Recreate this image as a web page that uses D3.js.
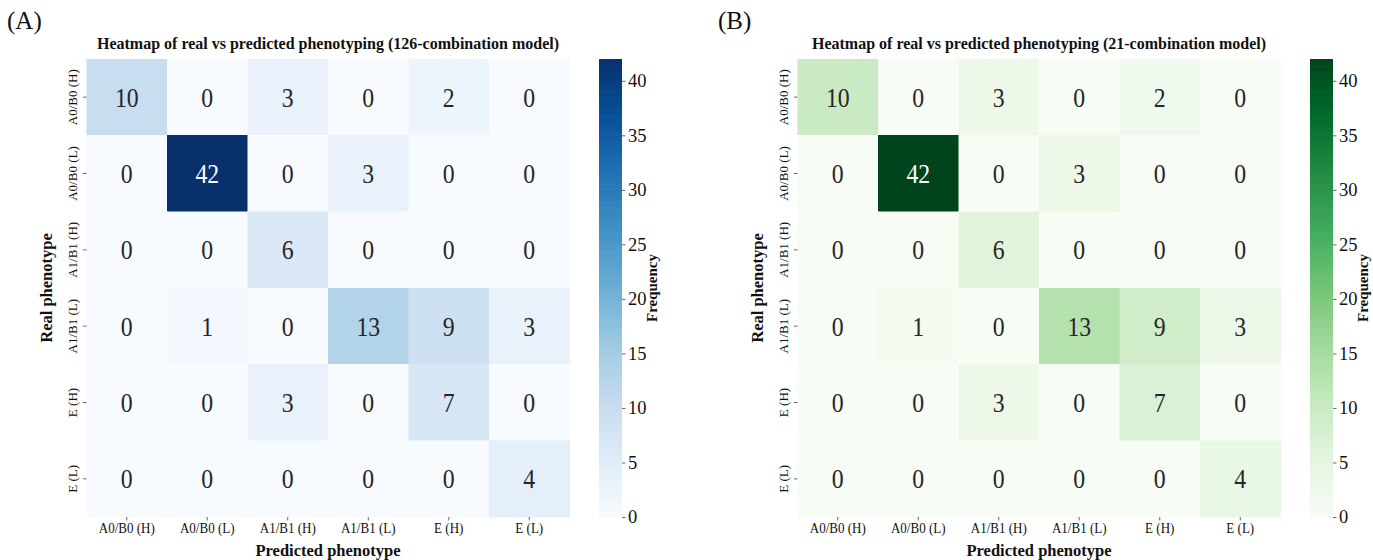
<!DOCTYPE html>
<html>
<head>
<meta charset="utf-8">
<script src="https://cdn.jsdelivr.net/npm/d3@7"></script>
<style>
  html, body { margin: 0; padding: 0; background: #fff; }
  svg { display: block; font-family: "Liberation Serif", "Times New Roman", serif; }
</style>
</head>
<body>
<svg id="chart" width="1373" height="560"></svg>
<script>
// Phenotype classes (rows = real, columns = predicted)
const realPhenotypes = ["A0/B0 (H)", "A0/B0 (L)", "A1/B1 (H)", "A1/B1 (L)", "E (H)", "E (L)"];
const predictedPhenotypes = ["A0/B0 (H)", "A0/B0 (L)", "A1/B1 (H)", "A1/B1 (L)", "E (H)", "E (L)"];

// Confusion counts, 126-combination model
const counts126 = [
  [10, 0, 3, 0, 2, 0],
  [0, 42, 0, 3, 0, 0],
  [0, 0, 6, 0, 0, 0],
  [0, 1, 0, 13, 9, 3],
  [0, 0, 3, 0, 7, 0],
  [0, 0, 0, 0, 0, 4]
];

// Confusion counts, 21-combination model
const counts21 = [
  [10, 0, 3, 0, 2, 0],
  [0, 42, 0, 3, 0, 0],
  [0, 0, 6, 0, 0, 0],
  [0, 1, 0, 13, 9, 3],
  [0, 0, 3, 0, 7, 0],
  [0, 0, 0, 0, 0, 4]
];

const colorbarTicks = [0, 5, 10, 15, 20, 25, 30, 35, 40];

const panelLetters = ["(A)", "(B)"];
const panelTitles = [
  "Heatmap of real vs predicted phenotyping (126-combination model)",
  "Heatmap of real vs predicted phenotyping (21-combination model)"
];

// ColorBrewer sequential ramps
const bluesRamp = ["#f7fbff", "#deebf7", "#c6dbef", "#9ecae1", "#6baed6", "#4292c6", "#2171b5", "#08519c", "#08306b"];
const greensRamp = ["#f7fcf5", "#e5f5e0", "#c7e9c0", "#a1d99b", "#74c476", "#41ab5d", "#238b45", "#006d2c", "#00441b"];

const svg = d3.select("#chart");
svg.append("rect").attr("width", 1373).attr("height", 560).attr("fill", "#fff");

const H = { left: 86.5, right: 569.5, top: 59, bottom: 517 };
const CB = { left: 599, width: 23 };
const TEXT = "#111";
const SERIF = "Liberation Serif, Times New Roman, serif";

function relLum(c) {
  const rgb = d3.rgb(c);
  const f = v => { v /= 255; return v <= 0.03928 ? v / 12.92 : Math.pow((v + 0.055) / 1.055, 2.4); };
  return 0.2126 * f(rgb.r) + 0.7152 * f(rgb.g) + 0.0722 * f(rgb.b);
}

function drawPanel(offsetX, letter, title, counts, ramp) {
  const g = svg.append("g").attr("transform", `translate(${offsetX},0)`);

  const x = d3.scaleBand().domain(predictedPhenotypes).range([H.left, H.right]);
  const y = d3.scaleBand().domain(realPhenotypes).range([H.top, H.bottom]);
  const vmax = d3.max(counts.flat());
  const color = d3.scaleLinear()
    .domain(ramp.map((_, i) => i / (ramp.length - 1) * vmax))
    .range(ramp)
    .interpolate(d3.interpolateRgb)
    .clamp(true);

  const cells = [];
  counts.forEach((row, i) => row.forEach((v, j) => cells.push({ r: realPhenotypes[i], c: predictedPhenotypes[j], v })));

  g.append("g").selectAll("rect").data(cells).join("rect")
    .attr("x", d => x(d.c))
    .attr("y", d => y(d.r))
    .attr("width", x.bandwidth())
    .attr("height", y.bandwidth())
    .attr("fill", d => color(d.v))
    .attr("stroke", d => color(d.v))
    .attr("stroke-width", 0.5)
    .attr("shape-rendering", "crispEdges");

  // Cell annotations (slightly condensed serif digits)
  g.append("g").selectAll("text").data(cells).join("text")
    .attr("transform", d => `translate(${x(d.c) + x.bandwidth() / 2},${y(d.r) + y.bandwidth() / 2}) scale(0.88,1)`)
    .attr("dy", "0.35em")
    .attr("text-anchor", "middle")
    .attr("font-size", 27)
    .attr("fill", d => relLum(color(d.v)) > 0.408 ? "#262626" : "#fff")
    .text(d => d.v);

  // Left axis with rotated labels
  const yAxis = g.append("g")
    .attr("transform", `translate(${H.left},0)`)
    .call(d3.axisLeft(y).tickSize(3.5).tickPadding(0));
  yAxis.select(".domain").remove();
  yAxis.selectAll(".tick line").attr("stroke", "#444").attr("stroke-width", 0.8);
  yAxis.selectAll(".tick text")
    .attr("transform", "rotate(-90)")
    .attr("x", 0)
    .attr("y", -10)
    .attr("dy", 0)
    .attr("text-anchor", "middle")
    .attr("font-size", 13)
    .attr("font-family", SERIF)
    .attr("fill", TEXT);

  // Bottom axis
  const xAxis = g.append("g")
    .attr("transform", `translate(0,${H.bottom})`)
    .call(d3.axisBottom(x).tickSize(3.5).tickPadding(2.5));
  xAxis.select(".domain").remove();
  xAxis.selectAll(".tick line").attr("stroke", "#444").attr("stroke-width", 0.8);
  xAxis.selectAll(".tick text")
    .attr("transform", "scale(0.93,1)")
    .attr("font-size", 14)
    .attr("font-family", SERIF)
    .attr("fill", TEXT);

  // Colorbar
  const cy = d3.scaleLinear().domain([0, vmax]).range([H.bottom, H.top]);
  const steps = d3.range(0, 128).map(k => ({ a: k / 128 * vmax, b: (k + 1) / 128 * vmax }));
  g.append("g").selectAll("rect").data(steps).join("rect")
    .attr("x", CB.left)
    .attr("width", CB.width)
    .attr("y", d => cy(d.b))
    .attr("height", d => cy(d.a) - cy(d.b) + 0.6)
    .attr("fill", d => color((d.a + d.b) / 2));

  const cAxis = g.append("g")
    .attr("transform", `translate(${CB.left + CB.width},0)`)
    .call(d3.axisRight(cy).tickValues(colorbarTicks).tickSize(3.5).tickPadding(2.5));
  cAxis.select(".domain").remove();
  cAxis.selectAll(".tick line").attr("stroke", "#444").attr("stroke-width", 0.8);
  cAxis.selectAll(".tick text")
    .attr("font-size", 18.5)
    .attr("font-family", SERIF)
    .attr("fill", TEXT);

  g.append("text")
    .attr("transform", `translate(657,${(H.top + H.bottom) / 2}) rotate(-90)`)
    .attr("text-anchor", "middle")
    .attr("font-size", 15)
    .attr("font-weight", "bold")
    .attr("fill", TEXT)
    .text("Frequency");

  // Titles and axis names
  g.append("text")
    .attr("x", (H.left + H.right) / 2)
    .attr("y", 49)
    .attr("text-anchor", "middle")
    .attr("font-size", 16)
    .attr("font-weight", "bold")
    .attr("fill", TEXT)
    .text(title);

  g.append("text")
    .attr("x", (H.left + H.right) / 2)
    .attr("y", 556)
    .attr("text-anchor", "middle")
    .attr("font-size", 16.5)
    .attr("font-weight", "bold")
    .attr("fill", TEXT)
    .text("Predicted phenotype");

  g.append("text")
    .attr("transform", `translate(52,${(H.top + H.bottom) / 2}) rotate(-90)`)
    .attr("text-anchor", "middle")
    .attr("font-size", 16.5)
    .attr("font-weight", "bold")
    .attr("fill", TEXT)
    .text("Real phenotype");

  g.append("text")
    .attr("x", 7)
    .attr("y", 29)
    .attr("font-size", 25)
    .attr("fill", TEXT)
    .text(letter);
}

drawPanel(0, panelLetters[0], panelTitles[0], counts126, bluesRamp);
drawPanel(711, panelLetters[1], panelTitles[1], counts21, greensRamp);
</script>
</body>
</html>
